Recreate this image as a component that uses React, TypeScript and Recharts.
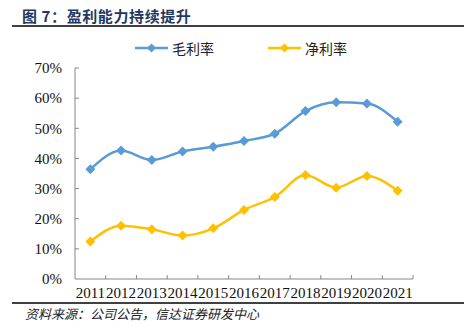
import { LineChart, Line, XAxis, YAxis, ReferenceLine } from "recharts"

const years = ["2011", "2012", "2013", "2014", "2015", "2016", "2017", "2018", "2019", "2020", "2021"]
const grossMargin = [36.4, 42.6, 39.5, 42.3, 43.9, 45.8, 48.2, 55.7, 58.6, 58.2, 52.2]
const netMargin = [12.4, 17.7, 16.5, 14.4, 16.8, 22.9, 27.2, 34.5, 30.3, 34.2, 29.3]
const yTicks = [0, 10, 20, 30, 40, 50, 60, 70]

const axisColor = "#868686"
const blue = "#5b9bd5"
const gold = "#ffc000"
const serif = "'Liberation Serif', 'Times New Roman', serif"
const cjk = "'Noto Sans CJK SC', sans-serif"

const data = years.map((year, i) => ({ pos: i + 0.5, year, gross: grossMargin[i], net: netMargin[i] }))

function Diamond({ cx, cy, fill }: { cx?: number; cy?: number; fill: string }) {
  if (cx == null || cy == null) return null
  const r = 5
  return <polygon points={`${cx},${cy - r} ${cx + r},${cy} ${cx},${cy + r} ${cx - r},${cy}`} fill={fill} />
}

function LegendItem({ left, color, label }: { left: number; color: string; label: string }) {
  return (
    <div style={{ position: "absolute", left, top: 38, height: 20, display: "flex", alignItems: "center" }}>
      <svg width={34} height={12}>
        <line x1={0} y1={6} x2={33} y2={6} stroke={color} strokeWidth={2.5} />
        <polygon points="16.5,1.5 21,6 16.5,10.5 12,6" fill={color} />
      </svg>
      <span style={{ marginLeft: 3, fontFamily: cjk, fontSize: 14, color: "#222" }}>{label}</span>
    </div>
  )
}

export default function App() {
  return (
    <div style={{ position: "absolute", left: 0, top: 0, width: 474, height: 328, background: "#fff" }}>
      <div style={{ position: "absolute", left: 22, top: 5, fontFamily: cjk, fontWeight: 700, fontSize: 15, letterSpacing: 0.6, color: "#1f3864", whiteSpace: "nowrap" }}>
        图 7：盈利能力持续提升
      </div>
      <div style={{ position: "absolute", left: 12, top: 25, width: 452, height: 2, background: "#404040" }} />

      <LegendItem left={135} color={blue} label="毛利率" />
      <LegendItem left={268} color={gold} label="净利率" />

      <div style={{ position: "absolute", left: 0, top: 0 }}>
        <LineChart width={474} height={328} data={data} margin={{ top: 68, right: 61, bottom: 19, left: 0 }}>
          <XAxis
            type="number"
            dataKey="pos"
            domain={[0, 11]}
            ticks={data.map((d) => d.pos)}
            tickFormatter={(v: number) => years[Math.round(v - 0.5)]}
            tickLine={false}
            axisLine={{ stroke: axisColor }}
            height={30}
            interval={0}
            tick={{ fontFamily: serif, fontSize: 15, fill: "#111" }}
          />
          <YAxis
            type="number"
            domain={[0, 70]}
            ticks={yTicks}
            tickFormatter={(v: number) => `${v}%`}
            tickLine={false}
            axisLine={{ stroke: axisColor }}
            width={75}
            tickMargin={7}
            tick={{ fontFamily: serif, fontSize: 15, fill: "#111" }}
          />
          {years.map((_, i) => (
            <ReferenceLine
              key={`xt-${i}`}
              segment={[{ x: i + 1, y: 0 }, { x: i + 1, y: 1.3 }]}
              stroke={axisColor}
              ifOverflow="visible"
            />
          ))}
          {yTicks.slice(1).map((v) => (
            <ReferenceLine
              key={`yt-${v}`}
              segment={[{ x: 0, y: v }, { x: 0.13, y: v }]}
              stroke={axisColor}
              ifOverflow="visible"
            />
          ))}
          <Line
            type="monotone"
            dataKey="gross"
            stroke={blue}
            strokeWidth={2.5}
            dot={(p: any) => <Diamond key={`g-${p.index}`} cx={p.cx} cy={p.cy} fill={blue} />}
            activeDot={false}
            isAnimationActive={false}
          />
          <Line
            type="monotone"
            dataKey="net"
            stroke={gold}
            strokeWidth={2.5}
            dot={(p: any) => <Diamond key={`n-${p.index}`} cx={p.cx} cy={p.cy} fill={gold} />}
            activeDot={false}
            isAnimationActive={false}
          />
        </LineChart>
      </div>

      <div style={{ position: "absolute", left: 12, top: 302, width: 452, height: 2, background: "#404040" }} />
      <div style={{ position: "absolute", left: 25, top: 304, fontFamily: cjk, fontStyle: "italic", fontSize: 13, color: "#222", whiteSpace: "nowrap" }}>
        资料来源：公司公告，信达证券研发中心
      </div>
    </div>
  )
}
